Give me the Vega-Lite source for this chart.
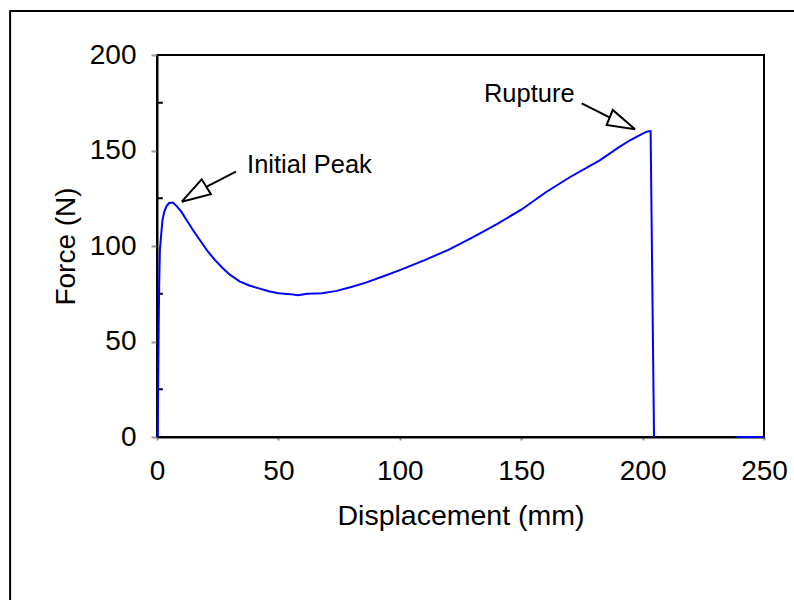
{
  "$schema": "https://vega.github.io/schema/vega-lite/v6.json",
  "width": 607,
  "height": 382,
  "autosize": {"type": "none"},
  "padding": {"left": 157, "top": 55, "right": 30, "bottom": 163},
  "background": "white",
  "config": {
    "view": {"stroke": "#000000", "strokeWidth": 2},
    "font": "Liberation Sans"
  },
  "datasets": {
    "curve": [
      {"seg": 1, "d": 0.3, "F": 0}, {"seg": 1, "d": 0.5, "F": 30}, {"seg": 1, "d": 0.7, "F": 58},
      {"seg": 1, "d": 0.9, "F": 80}, {"seg": 1, "d": 1.2, "F": 98}, {"seg": 1, "d": 1.6, "F": 104},
      {"seg": 1, "d": 2.2, "F": 113}, {"seg": 1, "d": 3, "F": 118}, {"seg": 1, "d": 4, "F": 121},
      {"seg": 1, "d": 5, "F": 122.5}, {"seg": 1, "d": 6.5, "F": 122.8}, {"seg": 1, "d": 8, "F": 121},
      {"seg": 1, "d": 10, "F": 118}, {"seg": 1, "d": 12.5, "F": 113}, {"seg": 1, "d": 15, "F": 108},
      {"seg": 1, "d": 18, "F": 102.5}, {"seg": 1, "d": 21, "F": 97}, {"seg": 1, "d": 24, "F": 92.5},
      {"seg": 1, "d": 27, "F": 88.5}, {"seg": 1, "d": 30, "F": 85}, {"seg": 1, "d": 34, "F": 81.5},
      {"seg": 1, "d": 38, "F": 79.3}, {"seg": 1, "d": 42, "F": 77.8}, {"seg": 1, "d": 46, "F": 76.3},
      {"seg": 1, "d": 50, "F": 75.3}, {"seg": 1, "d": 55, "F": 74.8}, {"seg": 1, "d": 58, "F": 74.2},
      {"seg": 1, "d": 62, "F": 75}, {"seg": 1, "d": 68, "F": 75.3}, {"seg": 1, "d": 74, "F": 76.5},
      {"seg": 1, "d": 80, "F": 78.5}, {"seg": 1, "d": 86, "F": 80.8}, {"seg": 1, "d": 93, "F": 84},
      {"seg": 1, "d": 100, "F": 87.4}, {"seg": 1, "d": 110, "F": 92.5}, {"seg": 1, "d": 120, "F": 98},
      {"seg": 1, "d": 130, "F": 104.5}, {"seg": 1, "d": 140, "F": 111.5}, {"seg": 1, "d": 150, "F": 119},
      {"seg": 1, "d": 160, "F": 128}, {"seg": 1, "d": 170, "F": 136}, {"seg": 1, "d": 182.5, "F": 145},
      {"seg": 1, "d": 190, "F": 151.5}, {"seg": 1, "d": 195, "F": 155.5}, {"seg": 1, "d": 200, "F": 158.8},
      {"seg": 1, "d": 202, "F": 160}, {"seg": 1, "d": 203.3, "F": 160.2}, {"seg": 1, "d": 204.7, "F": 0},
      {"seg": 2, "d": 238.7, "F": 0}, {"seg": 2, "d": 250, "F": 0}
    ],
    "heads": [
      {"arrow": "peak", "k": 1, "d": 10.2, "F": 123.2},
      {"arrow": "peak", "k": 2, "d": 18.4, "F": 134.9},
      {"arrow": "peak", "k": 3, "d": 22.2, "F": 127.1},
      {"arrow": "peak", "k": 4, "d": 10.2, "F": 123.2},
      {"arrow": "rupture", "k": 1, "d": 196.9, "F": 161.1},
      {"arrow": "rupture", "k": 2, "d": 187.7, "F": 171.2},
      {"arrow": "rupture", "k": 3, "d": 185.2, "F": 163.4},
      {"arrow": "rupture", "k": 4, "d": 196.9, "F": 161.1}
    ],
    "shafts": [
      {"arrow": "peak", "d1": 32.5, "F1": 138.9, "d2": 20.3, "F2": 131},
      {"arrow": "rupture", "d1": 174.9, "F1": 174.7, "d2": 186.4, "F2": 167.3}
    ],
    "labelLeft": [
      {"text": "Initial Peak", "d": 37.1, "F": 138.1}
    ],
    "labelRight": [
      {"text": "Rupture", "d": 172, "F": 175.6}
    ],
    "minor": [{"F": 25}, {"F": 75}, {"F": 125}, {"F": 175}]
  },
  "layer": [
    {
      "data": {"values": [{}]},
      "mark": {"type": "rect", "fill": null, "stroke": "#000000", "strokeWidth": 2, "clip": false},
      "encoding": {
        "x": {"datum": -60.5, "type": "quantitative", "scale": {"domain": [0, 250], "nice": false}},
        "x2": {"datum": 300},
        "y": {"datum": 223, "type": "quantitative", "scale": {"domain": [0, 200], "nice": false}},
        "y2": {"datum": -100}
      }
    },
    {
      "data": {"name": "minor"},
      "mark": {"type": "rule", "stroke": "#000000", "strokeWidth": 2},
      "encoding": {
        "x": {"datum": -0.4, "type": "quantitative"},
        "x2": {"datum": 2.4},
        "y": {"field": "F", "type": "quantitative"}
      }
    },
    {
      "data": {"name": "curve"},
      "mark": {"type": "line", "stroke": "#0000FF", "strokeWidth": 2, "clip": false},
      "encoding": {
        "x": {
          "field": "d", "type": "quantitative",
          "scale": {"domain": [0, 250], "nice": false},
          "axis": {
            "values": [0, 50, 100, 150, 200, 250],
            "title": "Displacement (mm)",
            "grid": false,
            "domainColor": "#000000", "domainWidth": 2,
            "tickColor": "#999999", "tickSize": 3, "tickWidth": 2,
            "labelFontSize": 28, "labelColor": "#000000", "labelPadding": 17,
            "labelFont": "Liberation Sans", "labelFlush": false,
            "titleFontSize": 28.5, "titleFontWeight": "normal", "titleColor": "#000000",
            "titleFont": "Liberation Sans", "titlePadding": 16
          }
        },
        "y": {
          "field": "F", "type": "quantitative",
          "scale": {"domain": [0, 200], "nice": false},
          "axis": {
            "values": [0, 50, 100, 150, 200],
            "title": "Force (N)",
            "grid": false,
            "domainColor": "#000000", "domainWidth": 2,
            "tickColor": "#999999", "tickSize": 6, "tickWidth": 2,
            "labelFontSize": 28, "labelColor": "#000000", "labelPadding": 15,
            "labelFont": "Liberation Sans", "labelFlush": false,
            "titleFontSize": 28, "titleFontWeight": "normal", "titleColor": "#000000",
            "titleFont": "Liberation Sans", "titlePadding": 9
          }
        },
        "detail": {"field": "seg"}
      }
    },
    {
      "data": {"name": "shafts"},
      "mark": {"type": "rule", "stroke": "#000000", "strokeWidth": 2},
      "encoding": {
        "x": {"field": "d1", "type": "quantitative"},
        "y": {"field": "F1", "type": "quantitative"},
        "x2": {"field": "d2"},
        "y2": {"field": "F2"}
      }
    },
    {
      "data": {"name": "heads"},
      "mark": {"type": "line", "stroke": "#000000", "strokeWidth": 2, "strokeJoin": "miter"},
      "encoding": {
        "x": {"field": "d", "type": "quantitative"},
        "y": {"field": "F", "type": "quantitative"},
        "detail": {"field": "arrow"},
        "order": {"field": "k", "type": "quantitative"}
      }
    },
    {
      "data": {"name": "labelLeft"},
      "mark": {"type": "text", "fontSize": 25.5, "font": "Liberation Sans", "baseline": "alphabetic", "align": "left", "color": "#000000"},
      "encoding": {
        "x": {"field": "d", "type": "quantitative"},
        "y": {"field": "F", "type": "quantitative"},
        "text": {"field": "text"}
      }
    },
    {
      "data": {"name": "labelRight"},
      "mark": {"type": "text", "fontSize": 25.5, "font": "Liberation Sans", "baseline": "alphabetic", "align": "right", "color": "#000000"},
      "encoding": {
        "x": {"field": "d", "type": "quantitative"},
        "y": {"field": "F", "type": "quantitative"},
        "text": {"field": "text"}
      }
    }
  ]
}
